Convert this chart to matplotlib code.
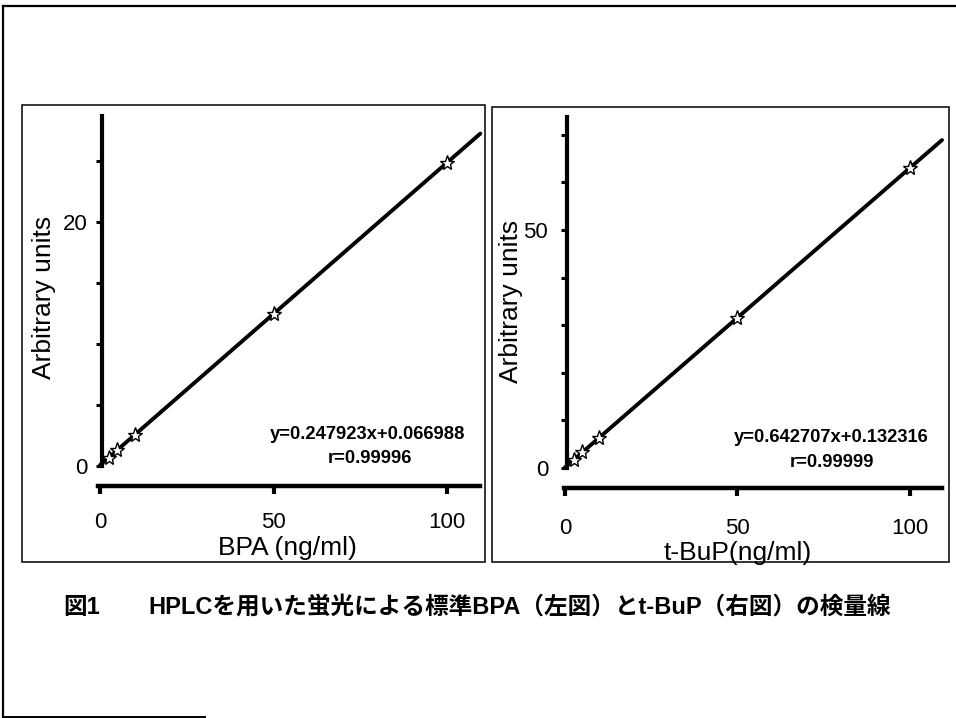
import matplotlib
matplotlib.use("Agg")
import matplotlib.pyplot as plt
from matplotlib.lines import Line2D
from matplotlib.patches import Rectangle
from matplotlib.ticker import FixedLocator, FixedFormatter

plt.rcParams['font.family'] = ['Liberation Sans', 'Noto Sans CJK JP', 'DejaVu Sans']

# ---- data ----
bpa_conc = [2.5, 5, 10, 50, 100]
bpa_resp = [0.69, 1.31, 2.55, 12.45, 24.85]
bpa_fit_x = [0, 109.6]
bpa_fit_y = [0.07, 27.25]
bpa_eq = "y=0.247923x+0.066988"
bpa_r = "r=0.99996"

tbup_conc = [2.5, 5, 10, 50, 100]
tbup_resp = [1.7, 3.3, 6.4, 31.6, 63.1]
tbup_fit_x = [0, 109.3]
tbup_fit_y = [0.13, 68.9]
tbup_eq = "y=0.642707x+0.132316"
tbup_r = "r=0.99999"

left_yticks = [0, 5, 10, 15, 20, 25]
left_ylabels = ["0", "", "", "", "20", ""]
right_yticks = [0, 10, 20, 30, 40, 50, 60, 70]
right_ylabels = ["0", "", "", "", "", "50", "", ""]
xticks = [0, 50, 100]
xticklabels = ["0", "50", "100"]

caption_num = "図1"
caption = "HPLCを用いた蛍光による標準BPA（左図）とt-BuP（右図）の検量線"

W, H = 956, 718
fig = plt.figure(figsize=(W / 100, H / 100), dpi=100)


def frac_rect(x0, y0, x1, y1):
    return [x0 / W, 1 - y1 / H, (x1 - x0) / W, (y1 - y0) / H]


def setup(ax, xlim, ylim, spine_x, yticks, ylabels, ymax, xmax,
          xlabel, xlab_pos, ylab_pos, ypad, xpad, minor_y):
    ax.set_xlim(*xlim)
    ax.set_ylim(*ylim)
    for s in ['top', 'right']:
        ax.spines[s].set_visible(False)
    ax.spines['left'].set_position(('data', spine_x))
    ax.spines['left'].set_bounds(0, ymax)
    ax.spines['bottom'].set_bounds(xlim[0] + 0.2, xmax)
    ax.spines['left'].set_linewidth(3)
    ax.spines['bottom'].set_linewidth(3.2)
    ax.yaxis.set_major_locator(FixedLocator(yticks))
    ax.yaxis.set_major_formatter(FixedFormatter(ylabels))
    ax.yaxis.set_minor_locator(FixedLocator(minor_y))
    ax.xaxis.set_major_locator(FixedLocator(xticks))
    ax.xaxis.set_major_formatter(FixedFormatter(xticklabels))
    ax.xaxis.set_minor_locator(FixedLocator(list(range(10, 110, 10))))
    ax.tick_params(axis='y', which='major', direction='out', length=4.5,
                   width=2.2, labelsize=16, pad=ypad)
    ax.tick_params(axis='y', which='minor', direction='out', length=1.5,
                   width=1)
    ax.tick_params(axis='x', which='major', direction='out', length=5.5,
                   width=3, labelsize=16, pad=xpad)
    ax.tick_params(axis='x', which='minor', direction='out', length=1.5,
                   width=1.5)
    ax.set_ylabel("Arbitrary units", fontsize=19)
    ax.set_xlabel(xlabel, fontsize=19)
    ax.yaxis.set_label_coords(*ylab_pos)
    ax.xaxis.set_label_coords(*xlab_pos)
    ax.xaxis.label.set_verticalalignment('center')
    ax.yaxis.label.set_verticalalignment('center')
    ax.yaxis.label.set_horizontalalignment('center')
    ax.patch.set_alpha(0)


# left panel
axL = fig.add_axes(frac_rect(97.2, 115.9, 480.0, 485.5))
axL.plot(bpa_fit_x, bpa_fit_y, color='black', lw=2.8, solid_capstyle='round',
         zorder=2, clip_on=False)
axL.plot(bpa_conc, bpa_resp, linestyle='none', marker='*', ms=11,
         mfc='white', mec='black', mew=1.0, zorder=3, clip_on=False)
setup(axL, (-0.8, 109.5), (-1.6, 28.7), 0.7, left_yticks, left_ylabels,
      28.7, 109.5, "BPA (ng/ml)", (0.496, -0.169), (-0.139, 0.51), 6.5, 13.5,
      [y for y in range(1, 29) if y % 5])
axL.text(0.706, 0.137, bpa_eq, transform=axL.transAxes, ha='center',
         va='center', fontsize=13.2, fontweight='bold')
axL.text(0.713, 0.074, bpa_r, transform=axL.transAxes, ha='center',
         va='center', fontsize=13.2, fontweight='bold')

# right panel
axR = fig.add_axes(frac_rect(562.9, 117.2, 942.7, 488.0))
axR.plot(tbup_fit_x, tbup_fit_y, color='black', lw=2.8, solid_capstyle='round',
         zorder=2, clip_on=False)
axR.plot(tbup_conc, tbup_resp, linestyle='none', marker='*', ms=11,
         mfc='white', mec='black', mew=1.0, zorder=3, clip_on=False)
setup(axR, (-0.6, 109.5), (-4.2, 73.7), 0.6, right_yticks, right_ylabels,
      73.7, 109.3, "t-BuP(ng/ml)", (0.461, -0.175), (-0.137, 0.502), 9, 16,
      [y for y in range(2, 74, 2) if y % 10])
axR.text(0.707, 0.135, tbup_eq, transform=axR.transAxes, ha='center',
         va='center', fontsize=13.2, fontweight='bold')
axR.text(0.708, 0.070, tbup_r, transform=axR.transAxes, ha='center',
         va='center', fontsize=13.2, fontweight='bold')

# panel boxes
for (x0, y0, x1, y1) in [(22, 105, 485, 562), (492, 107, 949, 562)]:
    r = frac_rect(x0, y0, x1, y1)
    fig.add_artist(Rectangle((r[0], r[1]), r[2], r[3], fill=False,
                             edgecolor='black', lw=1.1,
                             transform=fig.transFigure))

# outer frame (top, left, partial bottom)
def fl(xs, ys, lw):
    fig.add_artist(Line2D([x / W for x in xs], [1 - y / H for y in ys],
                          color='black', lw=lw, transform=fig.transFigure))

fl([3, 956], [6, 6], 1.6)
fl([3, 3], [6, 717], 1.6)
fl([3, 205], [716.5, 716.5], 1.4)

# caption
fig.text(63 / W, 1 - 607 / H, caption_num, ha='left', va='center',
         fontsize=17, fontweight='bold',
         family=['Liberation Sans', 'Noto Sans CJK JP'])
fig.text(148 / W, 1 - 607 / H, caption, ha='left', va='center',
         fontsize=17, fontweight='bold',
         family=['Liberation Sans', 'Noto Sans CJK JP'])

fig.savefig("out.png", dpi=100, facecolor='white')
